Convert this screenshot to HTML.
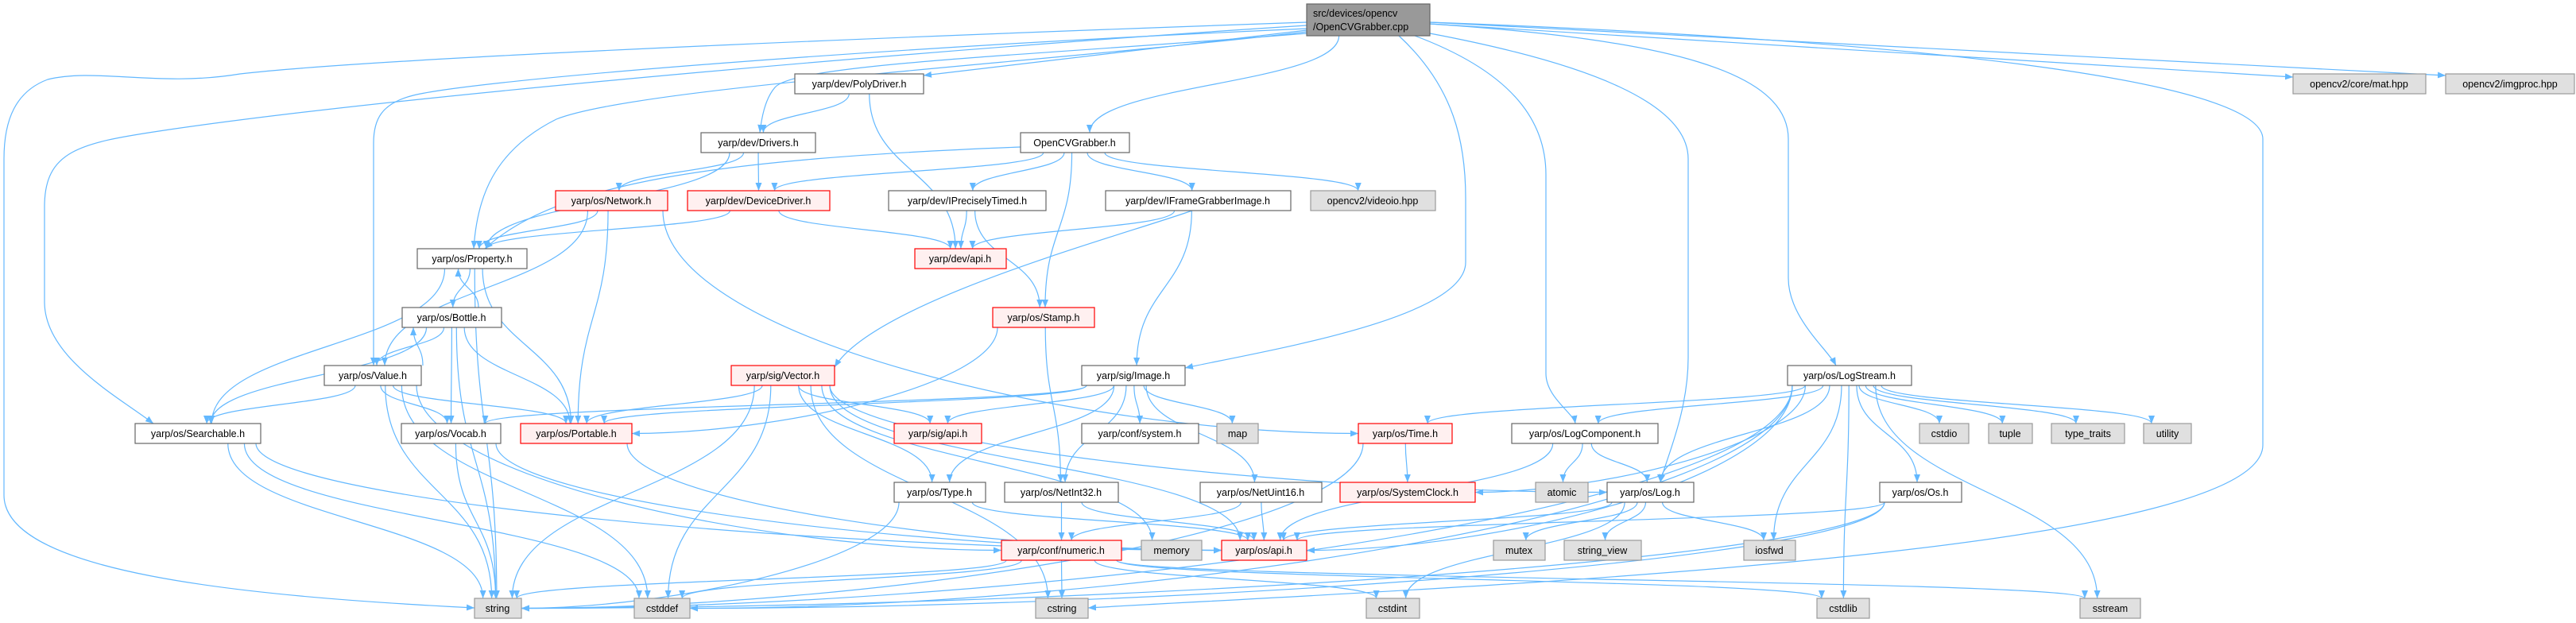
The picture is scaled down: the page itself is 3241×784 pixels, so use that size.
<!DOCTYPE html>
<html><head><meta charset="utf-8"><style>
html,body{margin:0;padding:0;background:#fff;}
svg{display:block;}
text{font-family:"Liberation Sans",sans-serif;font-size:12.5px;fill:#000;}
.n rect{fill:#fff;stroke:#666;stroke-width:1.2;}
.r rect{fill:#fff0f0;stroke:#f00;stroke-width:1.2;}
.g rect{fill:#e0e0e0;stroke:#999;stroke-width:1.2;}
.root rect{fill:#999;stroke:#666;stroke-width:1.2;}
</style></head><body>
<svg id="s" width="3241" height="784" viewBox="0 0 3241 784" xmlns="http://www.w3.org/2000/svg">
<defs><marker id="a" viewBox="0 0 10 10" refX="10" refY="5" markerWidth="10" markerHeight="10" markerUnits="userSpaceOnUse" orient="auto"><path d="M0,1 L10,5 L0,9 z" fill="#63b8ff"/></marker></defs>
<g id="edges" fill="none" stroke="#63b8ff" stroke-width="1.2"></g>
<g class="root"><rect x="1644" y="5" width="155" height="40"/><text x="1652" y="21">src/devices/opencv</text><text x="1652" y="38">/OpenCVGrabber.cpp</text></g>
<g class="n"><rect x="1000" y="93" width="162" height="25"/><text x="1081" y="110" text-anchor="middle">yarp/dev/PolyDriver.h</text></g>
<g class="g"><rect x="2885" y="93" width="167" height="25"/><text x="2968" y="110" text-anchor="middle">opencv2/core/mat.hpp</text></g>
<g class="g"><rect x="3077" y="93" width="162" height="25"/><text x="3158" y="110" text-anchor="middle">opencv2/imgproc.hpp</text></g>
<g class="n"><rect x="882" y="167" width="144" height="25"/><text x="954" y="184" text-anchor="middle">yarp/dev/Drivers.h</text></g>
<g class="n"><rect x="1284" y="167" width="137" height="25"/><text x="1352" y="184" text-anchor="middle">OpenCVGrabber.h</text></g>
<g class="r"><rect x="699" y="240" width="141" height="25"/><text x="769" y="257" text-anchor="middle">yarp/os/Network.h</text></g>
<g class="r"><rect x="865" y="240" width="179" height="25"/><text x="954" y="257" text-anchor="middle">yarp/dev/DeviceDriver.h</text></g>
<g class="n"><rect x="1118" y="240" width="198" height="25"/><text x="1217" y="257" text-anchor="middle">yarp/dev/IPreciselyTimed.h</text></g>
<g class="n"><rect x="1391" y="240" width="233" height="25"/><text x="1507" y="257" text-anchor="middle">yarp/dev/IFrameGrabberImage.h</text></g>
<g class="g"><rect x="1649" y="240" width="157" height="25"/><text x="1727" y="257" text-anchor="middle">opencv2/videoio.hpp</text></g>
<g class="n"><rect x="525" y="313" width="138" height="25"/><text x="594" y="330" text-anchor="middle">yarp/os/Property.h</text></g>
<g class="r"><rect x="1151" y="313" width="115" height="25"/><text x="1208" y="330" text-anchor="middle">yarp/dev/api.h</text></g>
<g class="n"><rect x="506" y="387" width="125" height="25"/><text x="568" y="404" text-anchor="middle">yarp/os/Bottle.h</text></g>
<g class="r"><rect x="1249" y="387" width="128" height="25"/><text x="1313" y="404" text-anchor="middle">yarp/os/Stamp.h</text></g>
<g class="n"><rect x="408" y="460" width="122" height="25"/><text x="469" y="477" text-anchor="middle">yarp/os/Value.h</text></g>
<g class="r"><rect x="920" y="460" width="130" height="25"/><text x="985" y="477" text-anchor="middle">yarp/sig/Vector.h</text></g>
<g class="n"><rect x="1361" y="460" width="130" height="25"/><text x="1426" y="477" text-anchor="middle">yarp/sig/Image.h</text></g>
<g class="n"><rect x="2249" y="460" width="156" height="25"/><text x="2327" y="477" text-anchor="middle">yarp/os/LogStream.h</text></g>
<g class="n"><rect x="170" y="533" width="158" height="25"/><text x="249" y="550" text-anchor="middle">yarp/os/Searchable.h</text></g>
<g class="n"><rect x="505" y="533" width="125" height="25"/><text x="567" y="550" text-anchor="middle">yarp/os/Vocab.h</text></g>
<g class="r"><rect x="655" y="533" width="140" height="25"/><text x="725" y="550" text-anchor="middle">yarp/os/Portable.h</text></g>
<g class="r"><rect x="1125" y="533" width="110" height="25"/><text x="1180" y="550" text-anchor="middle">yarp/sig/api.h</text></g>
<g class="n"><rect x="1361" y="533" width="147" height="25"/><text x="1434" y="550" text-anchor="middle">yarp/conf/system.h</text></g>
<g class="g"><rect x="1531" y="533" width="52" height="25"/><text x="1557" y="550" text-anchor="middle">map</text></g>
<g class="r"><rect x="1709" y="533" width="118" height="25"/><text x="1768" y="550" text-anchor="middle">yarp/os/Time.h</text></g>
<g class="n"><rect x="1902" y="533" width="184" height="25"/><text x="1994" y="550" text-anchor="middle">yarp/os/LogComponent.h</text></g>
<g class="g"><rect x="2415" y="533" width="62" height="25"/><text x="2446" y="550" text-anchor="middle">cstdio</text></g>
<g class="g"><rect x="2502" y="533" width="55" height="25"/><text x="2529" y="550" text-anchor="middle">tuple</text></g>
<g class="g"><rect x="2581" y="533" width="92" height="25"/><text x="2627" y="550" text-anchor="middle">type_traits</text></g>
<g class="g"><rect x="2697" y="533" width="60" height="25"/><text x="2727" y="550" text-anchor="middle">utility</text></g>
<g class="n"><rect x="1125" y="607" width="115" height="25"/><text x="1182" y="624" text-anchor="middle">yarp/os/Type.h</text></g>
<g class="n"><rect x="1264" y="607" width="143" height="25"/><text x="1335" y="624" text-anchor="middle">yarp/os/NetInt32.h</text></g>
<g class="n"><rect x="1510" y="607" width="153" height="25"/><text x="1586" y="624" text-anchor="middle">yarp/os/NetUint16.h</text></g>
<g class="r"><rect x="1686" y="607" width="170" height="25"/><text x="1771" y="624" text-anchor="middle">yarp/os/SystemClock.h</text></g>
<g class="g"><rect x="1932" y="607" width="66" height="25"/><text x="1965" y="624" text-anchor="middle">atomic</text></g>
<g class="n"><rect x="2022" y="607" width="109" height="25"/><text x="2076" y="624" text-anchor="middle">yarp/os/Log.h</text></g>
<g class="n"><rect x="2365" y="607" width="103" height="25"/><text x="2416" y="624" text-anchor="middle">yarp/os/Os.h</text></g>
<g class="r"><rect x="1260" y="680" width="151" height="25"/><text x="1335" y="697" text-anchor="middle">yarp/conf/numeric.h</text></g>
<g class="g"><rect x="1436" y="680" width="76" height="25"/><text x="1474" y="697" text-anchor="middle">memory</text></g>
<g class="r"><rect x="1537" y="680" width="107" height="25"/><text x="1590" y="697" text-anchor="middle">yarp/os/api.h</text></g>
<g class="g"><rect x="1879" y="680" width="65" height="25"/><text x="1911" y="697" text-anchor="middle">mutex</text></g>
<g class="g"><rect x="1968" y="680" width="97" height="25"/><text x="2016" y="697" text-anchor="middle">string_view</text></g>
<g class="g"><rect x="2194" y="680" width="65" height="25"/><text x="2226" y="697" text-anchor="middle">iosfwd</text></g>
<g class="g"><rect x="597" y="753" width="59" height="25"/><text x="626" y="770" text-anchor="middle">string</text></g>
<g class="g"><rect x="798" y="753" width="70" height="25"/><text x="833" y="770" text-anchor="middle">cstddef</text></g>
<g class="g"><rect x="1303" y="753" width="66" height="25"/><text x="1336" y="770" text-anchor="middle">cstring</text></g>
<g class="g"><rect x="1719" y="753" width="67" height="25"/><text x="1752" y="770" text-anchor="middle">cstdint</text></g>
<g class="g"><rect x="2286" y="753" width="66" height="25"/><text x="2319" y="770" text-anchor="middle">cstdlib</text></g>
<g class="g"><rect x="2617" y="753" width="76" height="25"/><text x="2655" y="770" text-anchor="middle">sstream</text></g>
</svg>
<script>
var N={root:[1644,1799,5,45],poly:[1000,1162,93,118],mat:[2885,3052,93,118],imgp:[3077,3239,93,118],
drv:[882,1026,167,192],ocv:[1284,1421,167,192],net:[699,840,240,265],dd:[865,1044,240,265],
ipt:[1118,1316,240,265],ifg:[1391,1624,240,265],vio:[1649,1806,240,265],prop:[525,663,313,338],
dapi:[1151,1266,313,338],bot:[506,631,387,412],stamp:[1249,1377,387,412],val:[408,530,460,485],
vec:[920,1050,460,485],img:[1361,1491,460,485],ls:[2249,2405,460,485],srch:[170,328,533,558],
voc:[505,630,533,558],port:[655,795,533,558],sapi:[1125,1235,533,558],sys:[1361,1508,533,558],
map:[1531,1583,533,558],time:[1709,1827,533,558],lc:[1902,2086,533,558],cstdio:[2415,2477,533,558],
tuple:[2502,2557,533,558],tt:[2581,2673,533,558],util:[2697,2757,533,558],type:[1125,1240,607,632],
ni32:[1264,1407,607,632],nu16:[1510,1663,607,632],sc:[1686,1856,607,632],atomic:[1932,1998,607,632],
log:[2022,2131,607,632],os:[2365,2468,607,632],num:[1260,1411,680,705],mem:[1436,1512,680,705],
oapi:[1537,1644,680,705],mutex:[1879,1944,680,705],sv:[1968,2065,680,705],iosfwd:[2194,2259,680,705],
str:[597,656,753,778],cstddef:[798,868,753,778],cstring:[1303,1369,753,778],cstdint:[1719,1786,753,778],
cstdlib:[2286,2352,753,778],sstream:[2617,2693,753,778]};
var C={
"root>str":"M1644,28 C1300,40 500,70 302,93 C200,110 120,85 60,100 C20,115 5,150 5,200 L5,623 C5,720 300,750 597,765",
"root>srch":"M1644,32 C1200,60 500,120 200,165 C100,180 56,190 56,260 L56,380 C56,450 150,500 193,533",
"root>val":"M1644,36 C1100,60 600,100 520,120 C480,130 470,150 470,180 L470,460",
"root>prop":"M1644,40 C1300,80 800,110 700,150 C620,190 600,250 596,313",
"root>drv":"M1644,42 C1300,70 1000,80 975,110 C962,125 958,150 956,167",
"root>poly":"M1644,38 L1162,95",
"root>img":"M1760,45 C1830,110 1844,180 1844,250 L1844,330 C1844,400 1600,440 1491,463",
"root>lc":"M1780,45 C1900,90 1945,150 1945,220 L1945,470 C1945,500 1980,520 1982,533",
"root>log":"M1799,42 C2000,80 2124,130 2124,200 L2124,450 C2124,520 2095,580 2089,607",
"root>ls":"M1799,30 C2100,50 2250,90 2250,175 L2250,350 C2250,400 2300,440 2310,460",
"root>cstring":"M1799,28 C2400,50 2847,100 2847,175 L2847,560 C2847,700 1800,740 1369,765",
"root>mat":"M1799,30 L2885,97","root>imgp":"M1799,28 L3077,95",
"ocv>prop":"M1284,185 C900,200 700,230 610,313",
"ifg>vec":"M1500,265 C1400,300 1100,380 1050,462"};
var E=[["root","poly"],["root","drv"],["root","ocv"],["root","prop"],["root","val"],["root","srch"],["root","str"],
["root","img"],["root","lc"],["root","log"],["root","ls"],["root","mat"],["root","imgp"],["root","cstring"],
["ocv","prop"],["ocv","dd"],["ocv","ipt"],["ocv","stamp"],["ocv","ifg"],["ocv","vio"],
["poly","drv"],["poly","dapi"],["drv","prop"],["drv","net"],["drv","dd"],
["net","prop"],["net","val"],["net","port"],["net","time"],["dd","prop"],["dd","dapi"],
["ipt","dapi"],["ipt","stamp"],["ifg","dapi"],["ifg","img"],["ifg","vec"],
["prop","str"],["prop","srch"],["prop","bot"],["prop","port"],
["bot","prop"],["bot","val"],["bot","srch"],["bot","voc"],["bot","port"],["bot","str"],
["val","bot"],["val","srch"],["val","voc"],["val","port"],["val","str"],["val","cstddef"],["val","num"],
["srch","str"],["srch","cstddef"],["srch","oapi"],["voc","str"],["voc","oapi"],["port","oapi"],
["stamp","port"],["stamp","ni32"],
["vec","port"],["vec","str"],["vec","cstddef"],["vec","sapi"],["vec","type"],["vec","oapi"],["vec","mem"],["vec","cstring"],["vec","log"],
["img","voc"],["img","port"],["img","sapi"],["img","type"],["img","sys"],["img","map"],["img","ni32"],["img","nu16"],
["time","sc"],["time","str"],["lc","atomic"],["lc","log"],["lc","oapi"],
["log","oapi"],["log","mutex"],["log","sv"],["log","iosfwd"],["log","cstdint"],
["ls","log"],["ls","lc"],["ls","time"],["ls","sc"],["ls","oapi"],["ls","str"],["ls","cstdio"],["ls","tuple"],
["ls","tt"],["ls","util"],["ls","os"],["ls","iosfwd"],["ls","cstdlib"],["ls","sstream"],["ls","cstddef"],
["os","oapi"],["os","str"],["os","cstddef"],["type","str"],["type","oapi"],
["ni32","num"],["ni32","oapi"],["nu16","num"],["nu16","oapi"],
["num","cstring"],["num","cstdint"],["num","cstddef"],["num","cstdlib"],["num","sstream"],["num","str"]];
function cl(v,a,b){return Math.max(a,Math.min(b,v));}
var g=document.getElementById("edges"),h="";
E.forEach(function(e){var key=e[0]+">"+e[1];var d;
if(C[key]){d=C[key];}else{
var s=N[e[0]],t=N[e[1]];
var scx=(s[0]+s[1])/2,tcx=(t[0]+t[1])/2,sx,sy,tx,ty,dy;
if(t[2]>=s[3]-1){
 sx=cl(scx+(tcx-scx)*0.1,s[0]+6,s[1]-6);sy=s[3];
 var gapx=tcx>scx? t[0]-s[1] : s[0]-t[1];
 dy=t[2]-sy;
 if(dy>=70 && gapx>2.5*dy){
  var right=tcx>scx;tx=right?t[0]:t[1];ty=(t[2]+t[3])/2;
  d="M"+sx+","+sy+" C"+sx+","+(sy+dy*0.6)+" "+(tx+(right?-1:1)*gapx*0.4)+","+ty+" "+tx+","+ty;
 } else {
  tx=cl(tcx+(scx-tcx)*0.05,t[0]+6,t[1]-6);ty=t[2];
  d="M"+sx+","+sy+" C"+sx+","+(sy+dy*0.5)+" "+tx+","+(ty-dy*0.5)+" "+tx+","+ty;}
}
else if(t[3]<=s[2]+1){sx=cl(tcx,s[0]+6,s[1]-6)+8;sy=s[2];tx=cl(scx,t[0]+6,t[1]-6)+8;ty=t[3];dy=ty-sy;
 d="M"+sx+","+sy+" C"+sx+","+(sy+dy*0.5)+" "+tx+","+(ty-dy*0.5)+" "+tx+","+ty;}
else {var right=tcx>scx;sx=right?s[1]:s[0];sy=(s[2]+s[3])/2;tx=right?t[0]:t[1];ty=(t[2]+t[3])/2;
 d="M"+sx+","+sy+" C"+(sx+tx)/2+","+sy+" "+(sx+tx)/2+","+ty+" "+tx+","+ty;}}
h+='<path d="'+d+'" marker-end="url(#a)"/>';});
g.innerHTML=h;
</script>
</body></html>
